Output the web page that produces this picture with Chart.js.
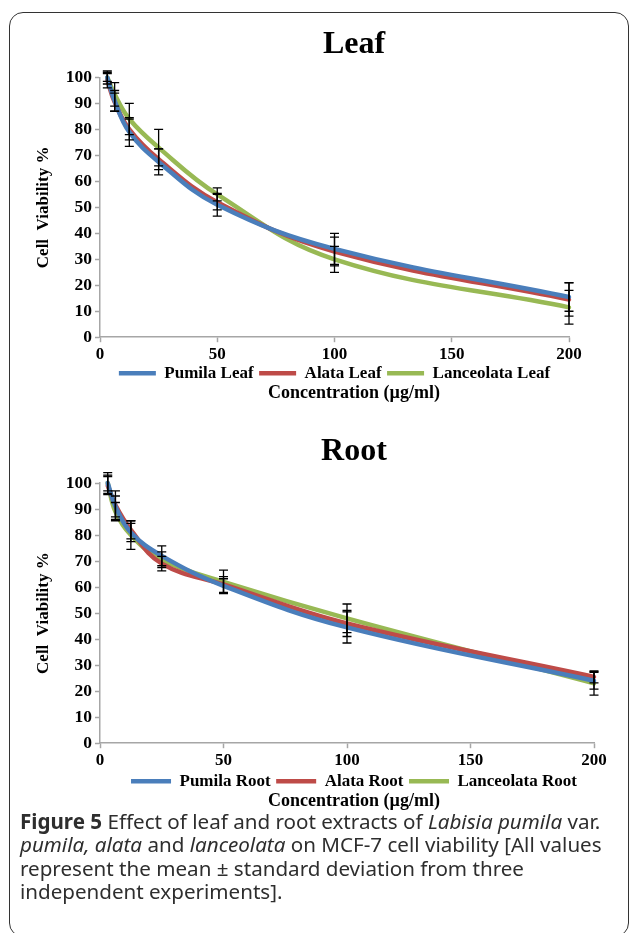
<!DOCTYPE html>
<html>
<head>
<meta charset="utf-8">
<script src="https://cdn.jsdelivr.net/npm/chart.js@4.4.0/dist/chart.umd.min.js"></script>
<style>
    html, body { margin: 0; padding: 0; width: 629px; height: 933px; overflow: hidden; background: #fff; }
    .frame { position: absolute; left: 9px; top: 12px; width: 618px; height: 923px; border: 1.5px solid #333; border-radius: 14px; }
    canvas { position: absolute; left: 0; }
    #leafChart { top: 0; }
    #rootChart { top: 405px; }
    .caption { position: absolute; left: 20px; top: 810px; font-family: "Noto Sans", sans-serif; font-size: 20.6px; line-height: 23.3px; color: #2e2e2e; white-space: nowrap; }
</style>
</head>
<body>
<div class="frame"></div>
<canvas id="leafChart" width="708" height="408"></canvas>
<canvas id="rootChart" width="708" height="411"></canvas>
<div class="caption"><b>Figure 5</b> Effect of leaf and root extracts of <i>Labisia pumila</i> var.<br><i>pumila, alata</i> and <i>lanceolata</i> on MCF-7 cell viability [All values<br>represent the mean ± standard deviation from three<br>independent experiments].</div>

<script>
// --- 数据 ---
const concentrations = [3.125, 6.25, 12.5, 25, 50, 100, 200];
const xTicks = [0, 50, 100, 150, 200];
const yTicks = [0, 10, 20, 30, 40, 50, 60, 70, 80, 90, 100];

const leafPumila = [100, 91, 79, 67.5, 51, 34, 15.5];
const leafAlata = [99, 90.5, 80, 68.5, 52, 33, 14.5];
const leafLanceolata = [100, 93.5, 84, 73, 55, 30, 11.5];
const leafPumilaSd = [2.5, 4, 5.5, 5, 4.4, 6, 5.5];
const leafAlataSd = [3, 3.5, 4, 4, 3, 5.5, 6.4];
const leafLanceolataSd = [1.5, 4.5, 6, 7, 2.5, 5, 6.5];

const rootPumila = [100, 91, 81, 72, 60.5, 44.5, 24];
const rootAlata = [99, 91.5, 82, 69, 61, 46, 25.5];
const rootLanceolata = [100, 89, 80, 70.5, 62, 48, 23];
const rootPumilaSd = [3, 4, 3.5, 3.8, 2.7, 6, 3.2];
const rootAlataSd = [3.5, 5.5, 3.5, 2.8, 3, 5, 2.3];
const rootLanceolataSd = [4, 3.5, 5.5, 3, 4.5, 5.5, 4.5];

const colors = { pumila: '#4A7EBB', alata: '#BE4B48', lanceolata: '#98B954' };
const axisGray = '#a6a6a6';
const serif = '"Liberation Serif", "Times New Roman", serif';

// --- 误差线插件 ---
const errorBars = {
    id: 'errorBars',
    afterDatasetsDraw(chart) {
        const { ctx, scales: { x, y } } = chart;
        ctx.save();
        ctx.strokeStyle = '#000';
        ctx.lineWidth = 1.3;
        chart.data.datasets.forEach(ds => {
            ds.data.forEach((p, i) => {
                const px = x.getPixelForValue(p.x);
                const top = y.getPixelForValue(p.y + ds.sd[i]);
                const bot = y.getPixelForValue(p.y - ds.sd[i]);
                ctx.beginPath();
                ctx.moveTo(px, top); ctx.lineTo(px, bot);
                ctx.moveTo(px - 4.5, top); ctx.lineTo(px + 4.5, top);
                ctx.moveTo(px - 4.5, bot); ctx.lineTo(px + 4.5, bot);
                ctx.stroke();
            });
        });
        ctx.restore();
    }
};

function series(label, values, sd, color) {
    return {
        label,
        data: concentrations.map((c, i) => ({ x: c, y: values[i] })),
        sd,
        borderColor: color,
        backgroundColor: color,
        borderWidth: 4.5,
        borderCapStyle: 'round',
        pointRadius: 0,
        tension: 0.4,
        clip: false
    };
}

function makeChart(id, title, names, values, sds, layout) {
    return new Chart(document.getElementById(id), {
        type: 'line',
        data: {
            datasets: [
                series(names[0], values[0], sds[0], colors.pumila),
                series(names[1], values[1], sds[1], colors.alata),
                series(names[2], values[2], sds[2], colors.lanceolata)
            ]
        },
        options: {
            responsive: false,
            animation: false,
            events: [],
            scales: {
                x: {
                    type: 'linear', min: 0, max: 200,
                    afterBuildTicks: s => { s.ticks = xTicks.map(value => ({ value })); },
                    afterFit: s => { s.height = layout.xHeight; s.paddingRight = layout.rightPad; },
                    grid: { drawOnChartArea: false, tickLength: 5, tickColor: axisGray, tickWidth: 1.5 },
                    border: { color: axisGray, width: 1.5 },
                    ticks: { color: '#000', padding: 2, maxRotation: 0, font: { family: serif, size: 17, weight: 'bold' } }
                },
                y: {
                    min: 0, max: 100,
                    afterBuildTicks: s => { s.ticks = yTicks.map(value => ({ value })); },
                    afterFit: s => { s.width = 100; },
                    grid: { drawOnChartArea: false, tickLength: 5, tickColor: axisGray, tickWidth: 1.5 },
                    border: { color: axisGray, width: 1.5 },
                    ticks: { color: '#000', padding: 3, font: { family: serif, size: 17.5, weight: 'bold' } },
                    title: { display: true, text: 'Cell  Viability %', color: '#000', padding: { top: 33, bottom: 0 }, font: { family: serif, size: 17, weight: 'bold' } }
                }
            },
            plugins: {
                title: { display: true, text: title, color: '#000', padding: layout.titlePad, font: { family: serif, size: 32, weight: 'bold' } },
                subtitle: { display: true, position: 'bottom', text: 'Concentration (µg/ml)', color: '#000', padding: layout.subPad, font: { family: serif, size: 18, weight: 'bold' } },
                legend: {
                    position: 'bottom', fullSize: layout.legendFull,
                    labels: { usePointStyle: true, pointStyle: 'line', pointStyleWidth: layout.swatch, padding: 5.5, color: '#000', font: { family: serif, size: 17, weight: 'bold' } }
                },
                tooltip: { enabled: false }
            }
        },
        plugins: [errorBars]
    });
}

makeChart('leafChart', 'Leaf',
    ['Pumila Leaf', 'Alata Leaf', 'Lanceolata Leaf'],
    [leafPumila, leafAlata, leafLanceolata],
    [leafPumilaSd, leafAlataSd, leafLanceolataSd],
    { xHeight: 22, rightPad: 139, swatch: 37, legendFull: false, titlePad: { top: 25.8, bottom: 13.3 }, subPad: { top: -9.3, bottom: 4 } });

makeChart('rootChart', 'Root',
    ['Pumila Root', 'Alata Root', 'Lanceolata Root'],
    [rootPumila, rootAlata, rootLanceolata],
    [rootPumilaSd, rootAlataSd, rootLanceolataSd],
    { xHeight: 24, rightPad: 114, swatch: 40, legendFull: true, titlePad: { top: 27.8, bottom: 11.8 }, subPad: { top: -9.3, bottom: 4 } });
</script>
</body>
</html>
